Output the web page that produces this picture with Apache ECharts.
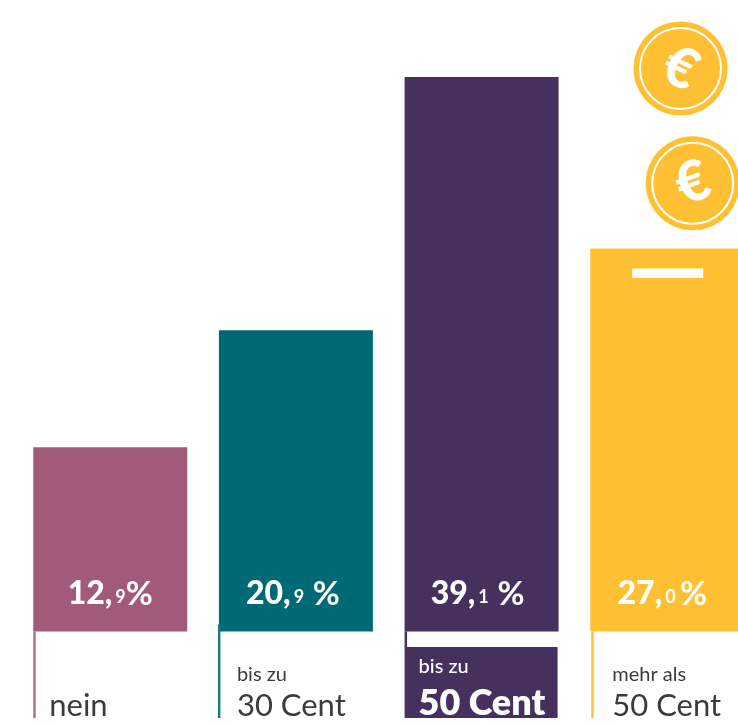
<!DOCTYPE html>
<html><head><meta charset="utf-8">
<style>html,body{margin:0;padding:0;background:#fff}#c{width:738px;height:726px}</style>
<script src="https://cdn.jsdelivr.net/npm/echarts@6/dist/echarts.min.js"></script></head>
<body><div id="c"></div>
<script>
const categories = ['nein', 'bis zu 30 Cent', 'bis zu 50 Cent', 'mehr als 50 Cent'];
// Bar lengths as drawn in the picture (the teal bar is drawn slightly longer than its printed 20,9 %)
const barValues = [13.0, 21.25, 39.1, 27.0];
const wholeLabels = ['12,', '20,', '39,', '27,'];
const decimalLabels = ['9', '9  ', '1  ', '0 '];
const captionSmall = ['', 'bis zu', 'bis zu', 'mehr als'];
const captionLarge = ['nein', '30 Cent', '50 Cent', '50 Cent'];
const colors = ['#a25a7b', '#006a74', '#46305e', '#ffc034'];
const poleColors = ['#b06f8c', '#1a7a83', '#46305e', '#ffc034'];
const FONT = 'Lato';

const chart = echarts.init(document.getElementById('c'), null, {renderer: 'canvas'});

function coin(cx, cy, rot) {
  return {
    type: 'group', x: cx, y: cy, silent: true,
    children: [
      {type: 'circle', shape: {r: 47}, style: {fill: '#ffc034'}},
      {type: 'circle', shape: {r: 40.5}, style: {fill: 'none', stroke: '#fff', lineWidth: 2}},
      {type: 'text', rotation: rot, style: {text: '€', x: 0, y: 0, fill: '#fff',
        fontFamily: FONT, fontWeight: 900, fontSize: 56, align: 'center', verticalAlign: 'middle'}}
    ]
  };
}

chart.setOption({
  animation: false,
  backgroundColor: '#fff',
  grid: {left: 17.4, width: 742.7, top: 7.5, bottom: 94.5, containLabel: false, outerBoundsMode: 'none'},
  xAxis: {type: 'category', data: categories, show: false},
  yAxis: {type: 'value', min: 0, max: 44, show: false},
  series: [
    {
      type: 'bar', barWidth: 154, z: 2,
      data: barValues.map((v, i) => ({
        value: v,
        itemStyle: {color: colors[i]},
        label: {
          show: true, position: 'insideBottom', distance: 21, offset: [[0, -3, -4, -5][i], 0],
          formatter: '{a|' + wholeLabels[i] + '}{b|' + decimalLabels[i] + '}{c|%}',
          rich: {
            a: {fontFamily: FONT, fontWeight: 900, fontSize: 32, color: '#fff'},
            b: {fontFamily: FONT, fontWeight: 700, fontSize: 18, color: '#fff', padding: [7, 0, 0, 3]},
            c: {fontFamily: FONT, fontWeight: 700, fontSize: 33, color: '#fff'}
          }
        }
      }))
    },
    {
      // posts and captions hanging below each bar, placed from the axis scales
      type: 'custom', z: 3, clip: false, silent: true,
      data: categories.map((c, i) => [i, 0]),
      encode: {x: 0, y: 1},
      renderItem(params, api) {
        const i = api.value(0);
        const p = api.coord([i, 0]);
        const left = p[0] - 77, base = p[1], foot = base + 86.5;
        const kids = [];
        const top = i === 1 ? base - 7 : base;
        kids.push({type: 'rect', shape: {x: left + (i === 1 ? -1 : i === 3 ? 1 : 0), y: top, width: 2.5, height: foot - top},
          style: {fill: poleColors[i]}});
        if (i === 2) {
          kids.push({type: 'rect', shape: {x: left + 1, y: base + 15.5, width: 152, height: 71},
            style: {fill: colors[2]}});
        }
        const dark = '#3b3b3b';
        const light = i === 2;
        const tx = left + [16, 18, 14, 22][i];
        if (captionSmall[i]) {
          kids.push({type: 'text', style: {text: captionSmall[i], x: tx, y: base + (light ? 45 : 53),
            fontFamily: FONT, fontWeight: light ? 500 : 400, fontSize: 20, fill: light ? '#fff' : dark, verticalAlign: 'bottom'}});
        }
        kids.push({type: 'text', style: {text: captionLarge[i], x: tx, y: base + 90,
          fontFamily: FONT, fontWeight: light ? 800 : 400, fontSize: light ? 36 : 31, fill: light ? '#fff' : dark, verticalAlign: 'bottom'}});
        return {type: 'group', children: kids};
      }
    }
  ]
});
// decorations: coins and the white slot of the yellow bar (slot placed from the axis scales)
const pt = chart.convertToPixel({xAxisIndex: 0, yAxisIndex: 0}, [3, barValues[3]]);
chart.setOption({graphic: [coin(680.5, 68.5, -0.45), coin(692.7, 183.3, 0.35),
  {type: 'rect', z: 10, shape: {x: pt[0] - 35, y: pt[1] + 20, width: 71, height: 9.5}, style: {fill: '#fff'}}]});
</script></body></html>
